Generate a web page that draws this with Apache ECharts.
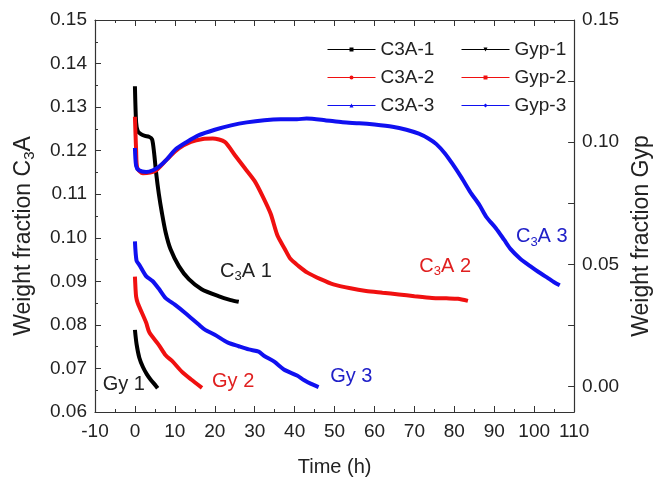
<!DOCTYPE html>
<html>
<head>
<meta charset="utf-8">
<script src="https://cdn.jsdelivr.net/npm/echarts@6/dist/echarts.min.js"></script>
<style>
html,body{margin:0;padding:0;background:#fff;}
#c{width:661px;height:483px;}
</style>
</head>
<body>
<div id="c"></div>
<script>
// ---- data (time in h, weight fraction) ----
var c3a1 = [[0,0.1348],[0.3,0.1265],[0.7,0.1245],[1.5,0.1238],[2.5,0.1234],[3.5,0.1232],[4.3,0.1226],[4.8,0.1195],[5.3,0.1150],[6.0,0.1100],[6.8,0.1055],[7.7,0.1012],[8.9,0.0974],[11.0,0.0935],[13.5,0.0905],[16.7,0.0882],[20.9,0.0866],[24,0.0857],[26,0.0853]];
var c3a2 = [[0,0.1278],[0.3,0.1200],[0.6,0.1160],[2.0,0.1148],[5.0,0.1153],[8,0.1180],[11,0.1205],[14,0.1220],[17,0.1227],[19.5,0.1228],[22.5,0.1220],[25,0.1190],[27.5,0.1160],[30,0.1130],[32,0.1095],[34,0.1055],[35.7,0.1005],[37.5,0.0975],[39.0,0.0951],[41,0.0935],[43.2,0.0920],[46.5,0.0905],[49.7,0.0893],[54,0.0884],[57.9,0.0878],[62,0.0874],[66.1,0.0870],[70,0.0866],[74.4,0.0862],[78,0.0861],[80.9,0.0860],[83.4,0.0855]];
var c3a3 = [[0,0.1206],[0.3,0.1165],[1,0.1155],[2.8,0.1151],[4.5,0.1155],[6,0.1163],[8,0.1180],[10.2,0.1203],[13,0.1220],[15.9,0.1235],[20,0.1248],[24.1,0.1258],[28,0.1265],[32.4,0.1270],[36.5,0.1272],[40.6,0.1272],[43.0,0.1274],[47.6,0.1270],[52,0.1265],[56.2,0.1263],[60,0.1260],[64.5,0.1255],[68,0.1248],[71.1,0.1239],[73.5,0.1228],[75.5,0.1215],[77.7,0.1193],[79.5,0.1170],[81.8,0.1138],[84,0.1105],[86.3,0.1075],[88,0.1048],[90.4,0.1022],[92.5,0.0995],[94.1,0.0974],[96.5,0.0952],[99.0,0.0935],[101,0.0922],[103.2,0.0909],[105,0.0898],[106.4,0.0891]];
var gyp1 = [[0,0.0232],[0.4,0.0175],[1.1,0.0118],[2.0,0.0080],[3.0,0.0050],[4.0,0.0027],[5.0,0.0008],[5.7,-0.0007]];
var gyp2 = [[0,0.0450],[0.15,0.0400],[0.3,0.0368],[0.7,0.0342],[2.8,0.0262],[3.6,0.0222],[6.0,0.0170],[7.7,0.0128],[9.3,0.0105],[11.8,0.0060],[14,0.0030],[16.8,-0.0005]];
var gyp3 = [[0,0.0594],[0.4,0.0515],[1.1,0.0498],[2.8,0.0452],[4.4,0.0432],[6,0.0400],[7.7,0.0362],[10,0.0335],[12.6,0.0301],[15.9,0.0255],[17.6,0.0232],[20,0.0212],[23.3,0.0180],[26,0.0165],[28.5,0.0152],[31,0.0143],[32.4,0.0125],[34.9,0.0102],[37.3,0.0070],[40.6,0.0045],[42.3,0.0027],[44,0.0012],[46,-0.0002]];

var rightLabelValues = [0, 0.05, 0.10, 0.15];
var rightTickValues = [0, 0.025, 0.05, 0.075, 0.10, 0.125, 0.15];

// curve label anchors, in data units of their series' axes
var lblC3A1 = [27.8, 0.0923];
var lblC3A2 = [77.7, 0.0935];
var lblC3A3 = [101.9, 0.1002];
var lblGy1 = [-2.8, 0.0007];
var lblGy2 = [24.6, 0.0019];
var lblGy3 = [54.2, 0.0040];

var FONT = "'Liberation Sans', Arial, sans-serif";
var BLACK = '#000000', RED = '#f01010', BLUE = '#1010f0';

function rich(color){
  return {
    a:{fontSize:20,fontFamily:FONT,color:color,lineHeight:24},
    s:{fontSize:13,fontFamily:FONT,color:color,lineHeight:10,verticalAlign:'bottom',padding:[12,0,0,0]}
  };
}
function mark(coord, text, color){
  return {
    symbol:'circle', symbolSize:1,
    silent:true, animation:false,
    itemStyle:{color:'rgba(0,0,0,0)'},
    label:{show:true, position:'inside', formatter:text, rich:rich(color), color:color},
    data:[{coord:coord}]
  };
}

function line(name, data, color, symbol, yIdx, mp){
  return {
    name:name, type:'line', data:data, xAxisIndex:0, yAxisIndex:yIdx,
    symbol:symbol, showSymbol:false, symbolSize:4,
    smooth:0.25,
    lineStyle:{color:color, width:4},
    itemStyle:{color:color},
    animation:false, clip:false,
    markPoint: mp
  };
}

var chart = echarts.init(document.getElementById('c'), null, {renderer:'canvas'});
var axisTextColor = '#222';
var AX = {color:'#333', width:1.2};
var option = {
  animation:false,
  backgroundColor:'#fff',
  grid:{left:95, right:80, top:20, bottom:71, containLabel:false},
  legend:[
    {data:['C3A-1','C3A-2','C3A-3'], orient:'vertical', left:322, top:35,
     itemWidth:48, itemHeight:5, itemGap:9,
     lineStyle:{width:1}, textStyle:{fontSize:19, fontFamily:FONT, color:'#222'}},
    {data:['Gyp-1','Gyp-2','Gyp-3'], orient:'vertical', left:456, top:35,
     itemWidth:48, itemHeight:5, itemGap:9,
     lineStyle:{width:1}, textStyle:{fontSize:19, fontFamily:FONT, color:'#222'}}
  ],
  xAxis:[
    {type:'value', min:-10, max:110, interval:10, position:'bottom',
     name:'Time (h)', nameLocation:'middle', nameGap:45,
     nameTextStyle:{fontSize:20, fontFamily:FONT, color:axisTextColor},
     axisLine:{onZero:false, lineStyle:AX},
     axisTick:{inside:true, length:6, lineStyle:{color:'#333'}},
     minorTick:{show:true, splitNumber:2, length:3, lineStyle:{color:'#333'}},
     splitLine:{show:false},
     axisLabel:{fontSize:19, fontFamily:FONT, color:axisTextColor, margin:10}},
    {type:'value', min:-10, max:110, interval:10, position:'top',
     axisLine:{onZero:false, lineStyle:AX},
     axisTick:{inside:true, length:6, lineStyle:{color:'#333'}},
     minorTick:{show:true, splitNumber:2, length:3, lineStyle:{color:'#333'}},
     splitLine:{show:false}, axisLabel:{show:false}}
  ],
  yAxis:[
    {type:'value', min:0.06, max:0.15, interval:0.01, position:'left',
     name:'{t|Weight fraction C}{s|3}{t|A}', nameLocation:'middle', nameGap:58,
     nameTextStyle:{padding:[0,40,0,0], rich:{
       t:{fontSize:23, fontFamily:FONT, color:axisTextColor, lineHeight:26},
       s:{fontSize:15, fontFamily:FONT, color:axisTextColor, lineHeight:12, verticalAlign:'bottom', padding:[13,0,0,0]}}},
     axisLine:{show:true, onZero:false, lineStyle:AX},
     axisTick:{inside:true, length:6, lineStyle:{color:'#333'}},
     minorTick:{show:true, splitNumber:2, length:3, lineStyle:{color:'#333'}},
     splitLine:{show:false},
     axisLabel:{fontSize:19, fontFamily:FONT, color:axisTextColor, margin:8,
       formatter:function(v){return v.toFixed(2);}}},
    {type:'value', min:-0.0104, max:0.15, position:'right',
     name:'Weight fraction Gyp', nameLocation:'middle', nameGap:55,
     nameTextStyle:{fontSize:23, fontFamily:FONT, color:axisTextColor, padding:[0,40,0,0]},
     axisLine:{show:true, onZero:false, lineStyle:AX},
     axisTick:{inside:true, length:6, customValues:rightTickValues, lineStyle:{color:'#333'}},
     splitLine:{show:false},
     axisLabel:{fontSize:19, fontFamily:FONT, color:axisTextColor, margin:8,
       customValues:rightLabelValues,
       formatter:function(v){return v.toFixed(2);}}}
  ],
  series:[
    line('C3A-1', c3a1, BLACK, 'rect', 0, mark(lblC3A1, '{a|C}{s|3}{a|A 1}', '#222')),
    line('C3A-2', c3a2, RED, 'circle', 0, mark(lblC3A2, '{a|C}{s|3}{a|A 2}', '#e02020')),
    line('C3A-3', c3a3, BLUE, 'triangle', 0, mark(lblC3A3, '{a|C}{s|3}{a|A 3}', '#2020c8')),
    line('Gyp-1', gyp1, BLACK, 'path://M0,0L10,0L5,10Z', 1, mark(lblGy1, '{a|Gy 1}', '#222')),
    line('Gyp-2', gyp2, RED, 'rect', 1, mark(lblGy2, '{a|Gy 2}', '#e02020')),
    line('Gyp-3', gyp3, BLUE, 'diamond', 1, mark(lblGy3, '{a|Gy 3}', '#2020c8'))
  ]
};
chart.setOption(option);
</script>
</body>
</html>
